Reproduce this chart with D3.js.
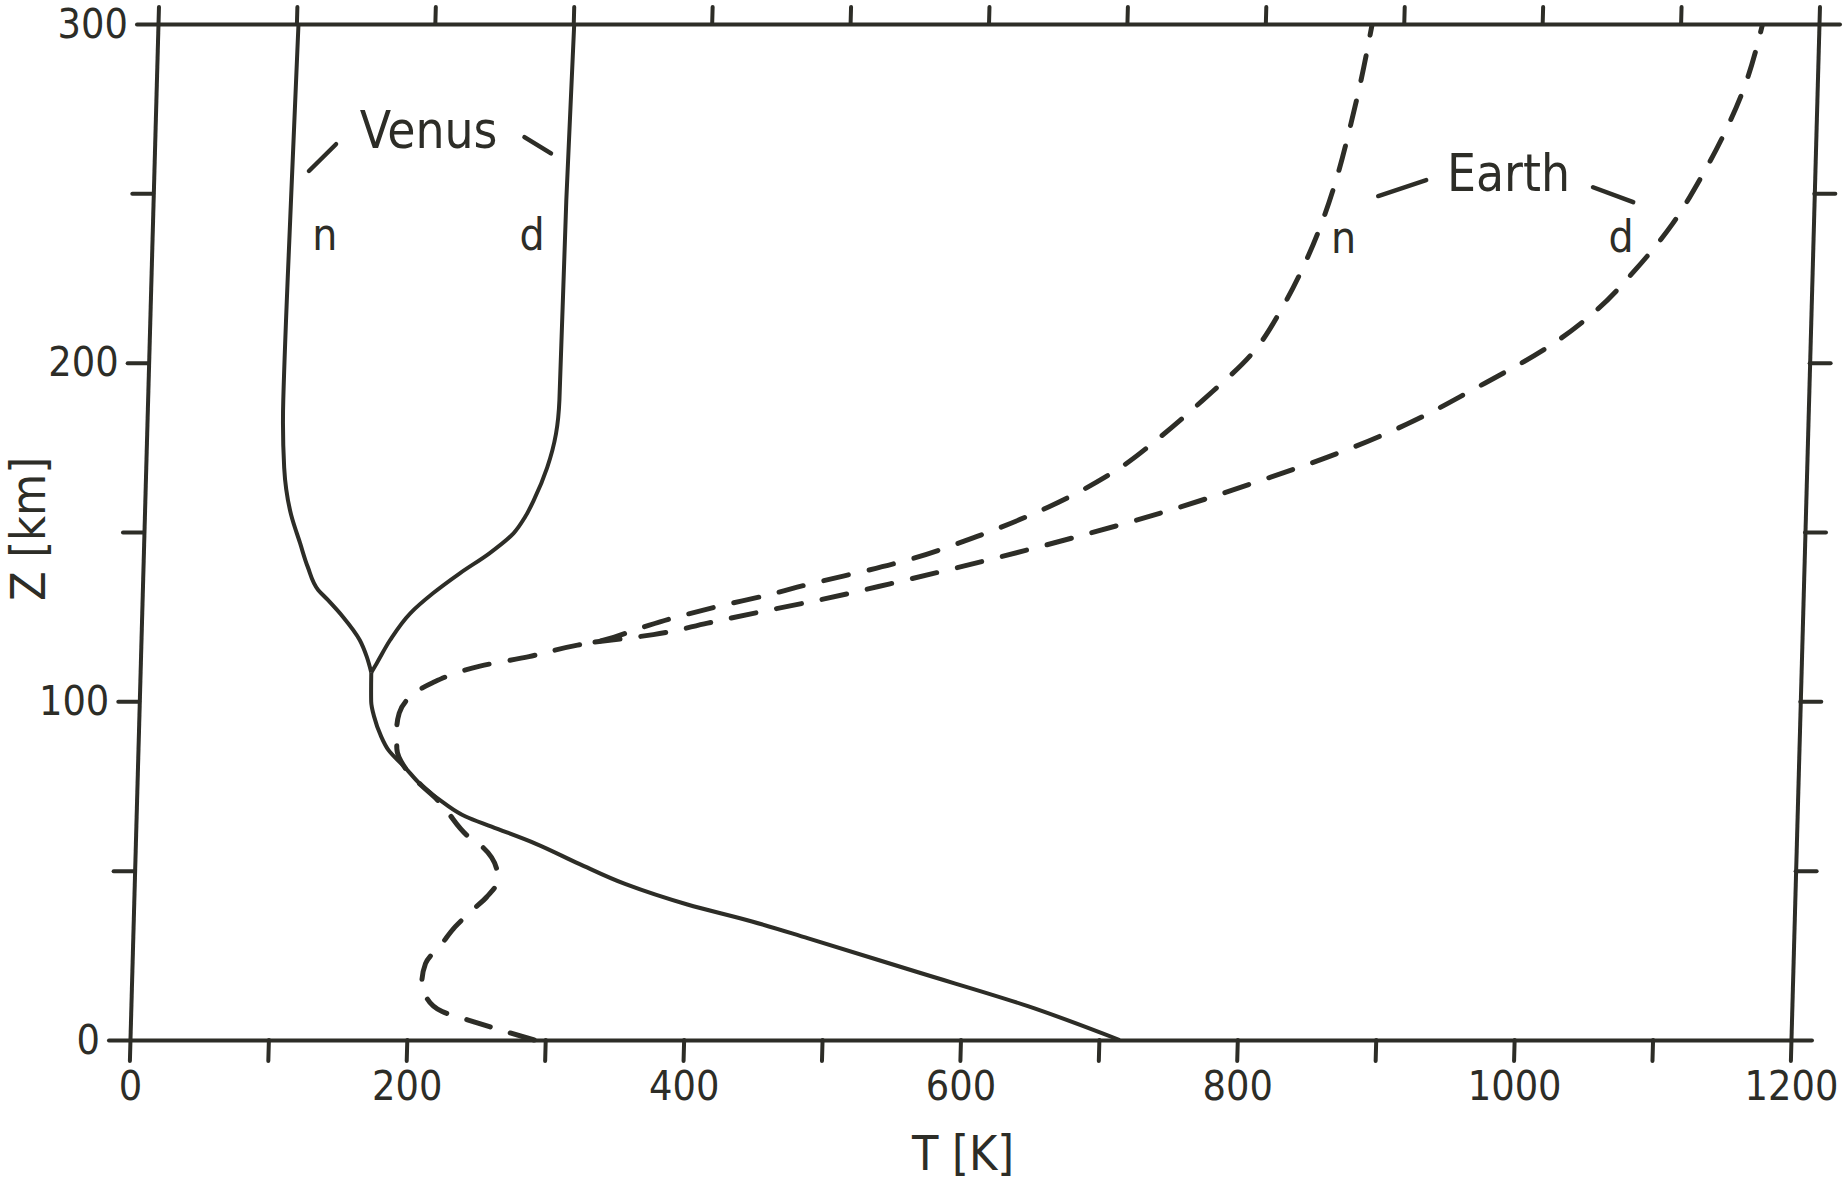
<!DOCTYPE html>
<html>
<head>
<meta charset="utf-8">
<script src="https://cdn.jsdelivr.net/npm/d3@7"></script>
<style>
  html, body { margin: 0; padding: 0; background: #fff; }
  svg { display: block; }
  text { font-family: 'DejaVu Sans Condensed', 'DejaVu Sans', sans-serif; fill: #2d2d27; }
</style>
</head>
<body>
<div id="chart"></div>
<script>
// altitude z [km] vs temperature T [K]

// Venus, common part below the day/night split
const venusLowZ = [0, 10, 20, 30, 35, 40, 46, 52, 58, 63, 66, 70, 75, 80.6, 85.6, 90, 95.4, 100, 108.5];
const venusLowT = [715, 648, 568, 488, 447, 400, 355, 321, 289, 257, 238, 222, 206, 193, 181, 175, 170, 167.5, 167];
// Venus night (n)
const venusNightZ = [108.5, 113.2, 118.1, 124.9, 130, 132.9, 139.7, 146.7, 155, 169, 189, 248, 300];
const venusNightT = [167, 163.4, 158, 145.5, 134, 127, 119, 113, 106, 100, 98, 99.6, 101.5];
// Venus day (d)
const venusDayZ = [108.5, 111.2, 118.1, 126, 131.9, 137.8, 143.7, 149.6, 154.4, 159.4, 169, 179, 189, 248, 300];
const venusDayT = [167, 170.7, 180, 194, 210, 229, 250, 267, 275, 281, 290, 295.7, 297.5, 298.5, 300.7];

// Earth, common part below the split
const earthLowZ = [0, 3, 5.9, 8.4, 12.8, 17.2, 22.6, 28.5, 33.4, 38.4, 42.3, 47.2, 50.2, 57.1, 60, 67.9, 71, 75, 80, 86, 92, 96.5, 100, 105.5, 110.4, 113.2, 116.6, 117.5];
const earthLowT = [292, 267, 244, 225, 213, 209.7, 212, 223.5, 232.6, 245, 255, 262.6, 261.7, 250.5, 240.7, 223.7, 217, 206, 194, 187, 186.5, 188, 192.5, 211.5, 245.4, 280.6, 315.5, 328];
// Earth night (n), from the split upward
const earthNightZ = [121.6, 124.7, 128.3, 131.2, 133.7, 141.7, 148.7, 157.4, 167.9, 178.3, 188.8, 203.7, 216, 228.8, 241.5, 255.4, 270.7, 282, 299.5];
const earthNightT = [360, 385, 419, 450, 473, 552, 602, 653, 700, 733, 762, 799, 817.6, 832.8, 844.9, 855.2, 863.9, 869.6, 877];
// Earth day (d), from the split upward
const earthDayZ = [119.7, 123.1, 126.5, 130, 134.7, 141.7, 148.7, 155.7, 164.4, 173.1, 181.8, 192.2, 205.8, 215.5, 227.3, 240.9, 254.8, 267, 281, 299.5];
const earthDayT = [370, 409, 448, 490, 540, 610, 675, 735, 800, 860, 910, 958, 1015, 1045, 1072, 1098, 1118, 1133, 1147, 1159];

const xTicks = d3.range(0, 1201, 100);
const xLabels = [0, 200, 400, 600, 800, 1000, 1200];
const zTicks = d3.range(0, 301, 50);
const zLabels = [0, 100, 200, 300];

const ink = '#2d2d27';
const SKEW = -1.58; // the scan is slightly sheared
const W = 1661, H = 1016;

const svg = d3.select('#chart').append('svg')
  .attr('width', 1848)
  .attr('height', 1185);

svg.append('rect').attr('width', 1848).attr('height', 1185).attr('fill', '#fff');

const x = d3.scaleLinear().domain([0, 1200]).range([0, W]);
const y = d3.scaleLinear().domain([0, 300]).range([H, 0]);

const g = svg.append('g')
  .attr('transform', `translate(158,24) skewX(${SKEW})`);

function styleAxis(sel) {
  sel.attr('font-size', 41).attr('font-family', null);
  sel.select('.domain').attr('stroke', ink).attr('stroke-width', 4);
  sel.selectAll('.tick line').attr('stroke', ink).attr('stroke-width', 4).attr('stroke-linecap', 'round');
  sel.selectAll('.tick text').attr('fill', ink).attr('transform', `skewX(${-SKEW})`);
}

// bottom axis
g.append('g')
  .attr('transform', `translate(0,${H})`)
  .call(d3.axisBottom(x).tickValues(xTicks)
    .tickFormat(d => xLabels.includes(d) ? d : '')
    .tickSize(21).tickSizeOuter(0).tickPadding(10))
  .call(styleAxis);

// left axis
g.append('g')
  .call(d3.axisLeft(y).tickValues(zTicks)
    .tickFormat(d => zLabels.includes(d) ? d : '')
    .tickSize(21).tickSizeOuter(0).tickPadding(9))
  .call(styleAxis);

// top and right frame with outward ticks
g.append('g')
  .call(d3.axisTop(x).tickValues(xTicks).tickFormat('').tickSize(17).tickSizeOuter(0))
  .call(styleAxis);

g.append('g')
  .attr('transform', `translate(${W},0)`)
  .call(d3.axisRight(y).tickValues(zTicks).tickFormat('').tickSize(21).tickSizeOuter(0))
  .call(styleAxis);

// profiles
const line = d3.line()
  .x(d => x(d[1]))
  .y(d => y(d[0]))
  .curve(d3.curveMonotoneY);

const solid = [
  d3.zip(venusLowZ, venusLowT),
  d3.zip(venusNightZ, venusNightT),
  d3.zip(venusDayZ, venusDayT)
];
solid.forEach(pts => {
  g.append('path')
    .datum(pts)
    .attr('fill', 'none')
    .attr('stroke', ink)
    .attr('stroke-width', 4)
    .attr('stroke-linejoin', 'round')
    .attr('d', line);
});

const split = [earthLowZ[earthLowZ.length - 1], earthLowT[earthLowT.length - 1]];
const dashed = [
  d3.zip(earthLowZ, earthLowT).concat(d3.zip(earthNightZ, earthNightT)),
  [split].concat(d3.zip(earthDayZ, earthDayT))
];
dashed.forEach(pts => {
  g.append('path')
    .datum(pts)
    .attr('fill', 'none')
    .attr('stroke', ink)
    .attr('stroke-width', 5)
    .attr('stroke-linecap', 'round')
    .attr('stroke-dasharray', '25,21')
    .attr('d', line);
});

// labels and their little leader strokes (in data units)
function label(T, z, txt, size) {
  g.append('text')
    .attr('transform', `translate(${x(T)},${y(z)}) skewX(${-SKEW})`)
    .attr('text-anchor', 'middle')
    .attr('font-size', size)
    .text(txt);
}
function leader(T1, z1, T2, z2) {
  g.append('line')
    .attr('x1', x(T1)).attr('y1', y(z1))
    .attr('x2', x(T2)).attr('y2', y(z2))
    .attr('stroke', ink)
    .attr('stroke-width', 4.5)
    .attr('stroke-linecap', 'round');
}

label(198, 263.4, 'Venus', 51);
label(125, 233.2, 'n', 44);
label(274.7, 233.2, 'd', 44);
leader(112, 256.6, 131, 264.5);
leader(267, 266.6, 286.5, 261.8);

label(979, 250.7, 'Earth', 51);
label(861, 232.4, 'n', 44);
label(1061.6, 232.7, 'd', 44);
leader(885, 249.2, 919.3, 253.9);
leader(1040, 251.8, 1069.3, 247.4);

// axis titles
svg.append('text')
  .attr('x', 963).attr('y', 1170)
  .attr('text-anchor', 'middle')
  .attr('font-size', 48)
  .text('T [K]');

svg.append('text')
  .attr('transform', 'translate(45,529) rotate(-90)')
  .attr('text-anchor', 'middle')
  .attr('font-size', 48)
  .text('Z [km]');
</script>
</body>
</html>
